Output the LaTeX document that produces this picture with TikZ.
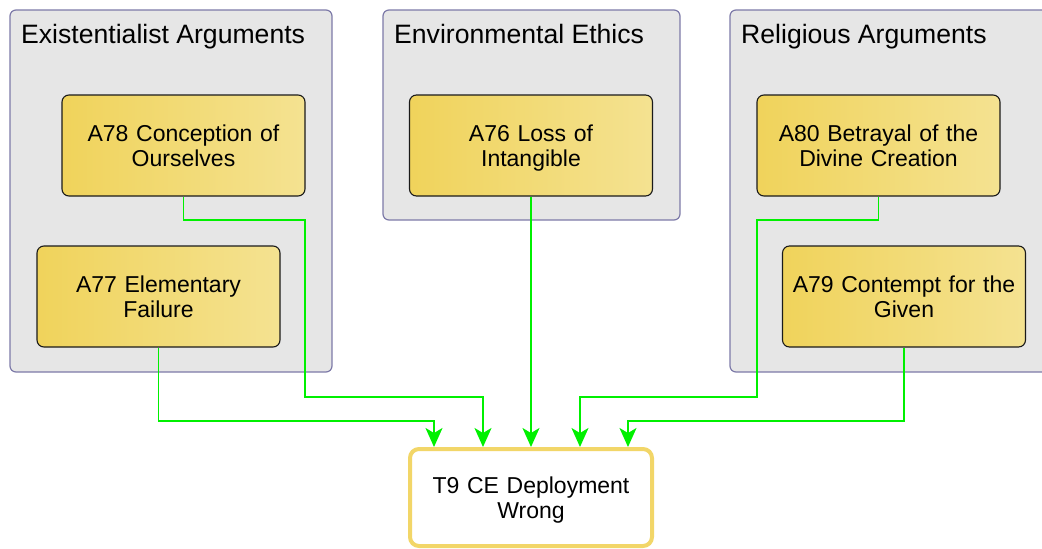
\documentclass[tikz,border=0pt]{standalone}
\usepackage{fontspec}
\setmainfont{Liberation Sans}
\usetikzlibrary{arrows.meta}
\definecolor{grpfill}{HTML}{E6E6E6}
\definecolor{grpline}{HTML}{7D7AA8}
\definecolor{nodeL}{HTML}{F0D35B}
\definecolor{nodeR}{HTML}{F4E291}
\definecolor{nodeline}{HTML}{1A1A1A}
\definecolor{thline}{HTML}{F2D668}
\definecolor{arrgreen}{HTML}{00F000}
\newcommand\nodepthline[1]{\raisebox{0pt}[\height][0pt]{#1}}
\tikzset{
  grp/.style={draw=grpline, fill=grpfill, line width=1.2pt, rounded corners=6pt},
  grptitle/.style={anchor=base west, inner sep=0pt, font=\fontsize{26.6}{30}\selectfont},
  arg/.style={draw=nodeline, line width=1.1pt, rounded corners=7pt, left color=nodeL, right color=nodeR,
    minimum width=243pt, minimum height=101pt, text width=230pt, align=center, inner sep=0pt,
    font=\fontsize{23}{25.5}\selectfont},
  thesis/.style={draw=thline, fill=white, line width=4pt, rounded corners=9pt,
    minimum width=242pt, minimum height=97pt, text width=230pt, align=center, inner sep=0pt,
    font=\fontsize{23}{25.5}\selectfont},
  arr/.style={draw=arrgreen, line width=1.6pt, arrows={-Stealth[length=19pt, width=17pt, inset=5pt]}}
}
\begin{document}
\begin{tikzpicture}[x=1pt,y=-1pt]
\useasboundingbox (0,0) rectangle (1042,549);
% groups
\path[grp] (10,10) rectangle (332,372);
\path[grp] (383,10) rectangle (680,220);
\path[grp] (730,10) rectangle (1056,372);
\node[grptitle] (g1) at (21,43) {Existentialist Arguments};
\node[grptitle] (g2) at (394,43) {Environmental Ethics};
\node[grptitle] (g3) at (741,43) {Religious Arguments};
% nodes
\node[arg] (a78) at (183.5,145.5) {A78 Conception of\\\nodepthline{Ourselves}};
\node[arg] (a77) at (158.5,296.5) {A77 Elementary\\\nodepthline{Failure}};
\node[arg] (a76) at (531,145.5) {A76 Loss of\\\nodepthline{Intangible}};
\node[arg] (a80) at (878.5,145.5) {A80 Betrayal of the\\\nodepthline{Divine Creation}};
\node[arg] (a79) at (904,296.5) {A79 Contempt for the\\\nodepthline{Given}};
\node[thesis] (t9) at (531,497.5) {T9 CE Deployment\\\nodepthline{Wrong}};
% bends
\coordinate (c1) at (305,220);
\coordinate (c2) at (483,397);
\coordinate (c3) at (434,421);
\coordinate (c4) at (757,220);
\coordinate (c5) at (580,397);
\coordinate (c6) at (628,421);
% connectors
\draw[arr] (a78.south) |- (c1) |- (c2) -- (c2 |- t9.north);
\draw[arr] (a77.south) |- (c3) -- (c3 |- t9.north);
\draw[arr] (a76.south) -- (t9.north);
\draw[arr] (a80.south) |- (c4) |- (c5) -- (c5 |- t9.north);
\draw[arr] (a79.south) |- (c6) -- (c6 |- t9.north);
\end{tikzpicture}
\end{document}
